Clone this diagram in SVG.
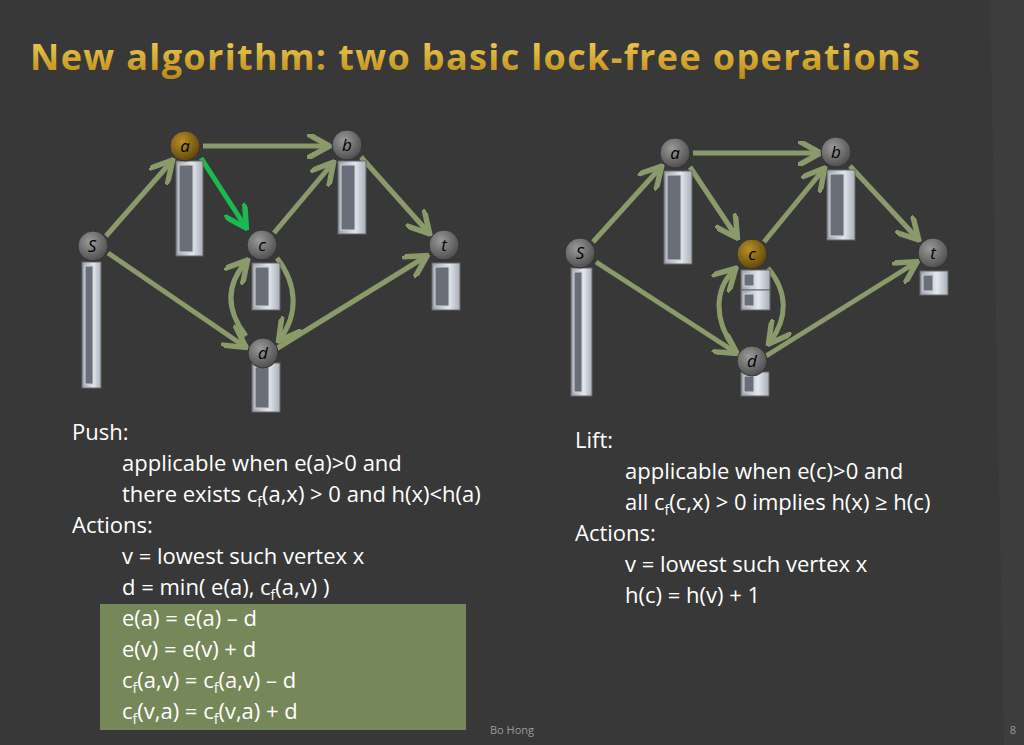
<svg xmlns="http://www.w3.org/2000/svg" width="1024" height="745" viewBox="0 0 1024 745">
<defs>
<linearGradient id="tg" x1="0" y1="0" x2="0" y2="1"><stop offset="0" stop-color="#f7d860"/><stop offset="1" stop-color="#b88410"/></linearGradient>
<linearGradient id="bar" x1="0" y1="0" x2="1" y2="0"><stop offset="0" stop-color="#9a9ea8"/><stop offset="0.6" stop-color="#e4e8ee"/><stop offset="1" stop-color="#a8aeb8"/></linearGradient>
<radialGradient id="ng" cx="0.4" cy="0.35" r="0.7"><stop offset="0" stop-color="#9a9a9a"/><stop offset="1" stop-color="#4a4a4a"/></radialGradient>
<radialGradient id="ny" cx="0.4" cy="0.35" r="0.7"><stop offset="0" stop-color="#b8902a"/><stop offset="1" stop-color="#5a4208"/></radialGradient>
<marker id="ah" viewBox="0 0 10 10" refX="8" refY="5" markerWidth="5" markerHeight="5" orient="auto"><path d="M0,0 L9,5 L0,10" fill="none" stroke="#8a9a6a" stroke-width="2.2"/></marker>
<marker id="ahg" viewBox="0 0 10 10" refX="8" refY="5" markerWidth="5" markerHeight="5" orient="auto"><path d="M0,0 L9,5 L0,10" fill="none" stroke="#1cb850" stroke-width="2.2"/></marker>
</defs>
<style>
.e{fill:none;stroke:#8a9a6a;stroke-width:5;marker-end:url(#ah)}
.g{fill:none;stroke:#1cb850;stroke-width:5;marker-end:url(#ahg)}
.b{fill:url(#bar);stroke:#666;stroke-width:1}
.bi{fill:#6a6e78;stroke:#d0d4dc;stroke-width:1}
.n{fill:url(#ng);stroke:#333;stroke-width:1}
.lb{font-family:"Open Sans","DejaVu Sans",sans-serif;font-style:italic;font-size:17px;fill:#000;text-anchor:middle}
.t{font-family:"Open Sans","Liberation Sans",sans-serif;font-size:22px;fill:#fff}
</style>
<rect width="1024" height="745" fill="#383838"/>
<path d="M990,0 L1024,0 L1024,745 L1004,745 Z" fill="#3d3d3d"/>
<text x="30" y="70" textLength="890" font-family="Open Sans, Liberation Sans, sans-serif" font-weight="bold" font-size="36" fill="url(#tg)">New algorithm: two basic lock-free operations</text>

<g id="connectors">
<path class="e" d="M106,236 L171,162"/>
<path class="e" d="M203,146 L327,146"/>
<path class="g" d="M201,158 L245,226"/>
<path class="e" d="M274,233 L332,164"/>
<path class="e" d="M361,157 L428,232"/>
<path class="e" d="M108,253 L244,346"/>
<path class="e" d="M276,349 L425,257"/>
<path class="e" d="M246,336 C226,310 226,285 246,262"/>
<path class="e" d="M277,258 C298,285 298,315 280,339"/>

<path class="e" d="M593,242 L660,168"/>
<path class="e" d="M693,153 L818,153"/>
<path class="e" d="M690,167 L736,236"/>
<path class="e" d="M764,242 L823,170"/>
<path class="e" d="M850,166 L917,238"/>
<path class="e" d="M596,262 L735,352"/>
<path class="e" d="M766,356 L915,263"/>
<path class="e" d="M734,348 C714,320 714,290 734,270"/>
<path class="e" d="M768,268 C788,292 788,318 770,342"/>
</g>

<g id="S1"><rect class="b" x="82" y="262" width="19" height="126"/><rect class="bi" x="85" y="266" width="8" height="118"/><circle class="n" cx="93" cy="246" r="15"/><text class="lb" x="92" y="252">S</text></g>
<g id="a1"><rect class="b" x="176" y="161" width="27" height="95"/><rect class="bi" x="179" y="165" width="14" height="87"/><circle cx="185" cy="146" r="15" fill="url(#ny)" stroke="#333"/><text class="lb" x="185" y="152">a</text></g>
<g id="b1"><rect class="b" x="338" y="161" width="28" height="73"/><rect class="bi" x="341" y="165" width="14" height="65"/><circle class="n" cx="347" cy="145" r="15"/><text class="lb" x="347" y="151">b</text></g>
<g id="c1"><rect class="b" x="252" y="263" width="28" height="47"/><rect class="bi" x="255" y="267" width="14" height="39"/><circle class="n" cx="262" cy="245" r="15"/><text class="lb" x="262" y="251">c</text></g>
<g id="t1"><rect class="b" x="432" y="263" width="28" height="47"/><rect class="bi" x="435" y="267" width="14" height="39"/><circle class="n" cx="444" cy="245" r="15"/><text class="lb" x="444" y="251">t</text></g>
<g id="d1"><rect class="b" x="252" y="363" width="28" height="49"/><rect class="bi" x="255" y="367" width="14" height="41"/><circle class="n" cx="263" cy="353" r="15"/><text class="lb" x="263" y="359">d</text></g>

<g id="S2"><rect class="b" x="571" y="268" width="21" height="128"/><rect class="bi" x="574" y="272" width="8" height="120"/><circle class="n" cx="580" cy="253" r="15"/><text class="lb" x="580" y="259">S</text></g>
<g id="a2"><rect class="b" x="664" y="171" width="28" height="93"/><rect class="bi" x="667" y="175" width="14" height="85"/><circle class="n" cx="675" cy="153" r="15"/><text class="lb" x="675" y="159">a</text></g>
<g id="b2"><rect class="b" x="827" y="170" width="28" height="70"/><rect class="bi" x="830" y="174" width="14" height="62"/><circle class="n" cx="836" cy="152" r="15"/><text class="lb" x="836" y="158">b</text></g>
<g id="c2"><rect class="b" x="741" y="270" width="29" height="20"/><rect class="bi" x="744" y="274" width="10" height="12"/><rect class="b" x="741" y="290" width="29" height="20"/><rect class="bi" x="744" y="294" width="10" height="12"/><circle cx="752" cy="254" r="15" fill="url(#ny)" stroke="#333"/><text class="lb" x="752" y="260">c</text></g>
<g id="t2"><rect class="b" x="920" y="271" width="28" height="24"/><rect class="bi" x="923" y="275" width="10" height="16"/><circle class="n" cx="933" cy="253" r="15"/><text class="lb" x="933" y="259">t</text></g>
<g id="d2"><rect class="b" x="741" y="372" width="28" height="24"/><rect class="bi" x="744" y="376" width="10" height="16"/><circle class="n" cx="752" cy="361" r="15"/><text class="lb" x="752" y="367">d</text></g>

<rect x="100" y="604" width="366" height="126" fill="#76875a"/>
<g class="t">
<text x="72" y="440">Push:</text>
<text x="122" y="471">applicable when e(a)&gt;0 and</text>
<text x="122" y="502">there exists c<tspan font-size="14" dy="5">f</tspan><tspan dy="-5">(a,x) &gt; 0 and h(x)&lt;h(a)</tspan></text>
<text x="72" y="533">Actions:</text>
<text x="122" y="564">v = lowest such vertex x</text>
<text x="122" y="595">d = min( e(a), c<tspan font-size="14" dy="5">f</tspan><tspan dy="-5">(a,v)  )</tspan></text>
<text x="122" y="626">e(a) = e(a) – d</text>
<text x="122" y="657">e(v) = e(v) + d</text>
<text x="122" y="688">c<tspan font-size="14" dy="5">f</tspan><tspan dy="-5">(a,v) = c</tspan><tspan font-size="14" dy="5">f</tspan><tspan dy="-5">(a,v) – d</tspan></text>
<text x="122" y="719">c<tspan font-size="14" dy="5">f</tspan><tspan dy="-5">(v,a) = c</tspan><tspan font-size="14" dy="5">f</tspan><tspan dy="-5">(v,a) + d</tspan></text>
<text x="575" y="448">Lift:</text>
<text x="625" y="479">applicable when e(c)&gt;0 and</text>
<text x="625" y="510">all c<tspan font-size="14" dy="5">f</tspan><tspan dy="-5">(c,x) &gt; 0 implies  h(x) ≥ h(c)</tspan></text>
<text x="575" y="541">Actions:</text>
<text x="625" y="572">v = lowest such vertex x</text>
<text x="625" y="603">h(c) = h(v) + 1</text>
</g>
<text x="512" y="734" font-family="Open Sans, Liberation Sans, sans-serif" font-size="11" fill="#9a9a9a" text-anchor="middle">Bo Hong</text>
<text x="1016" y="734" font-family="Open Sans, Liberation Sans, sans-serif" font-size="11" fill="#9a9a9a" text-anchor="end">8</text>
</svg>
